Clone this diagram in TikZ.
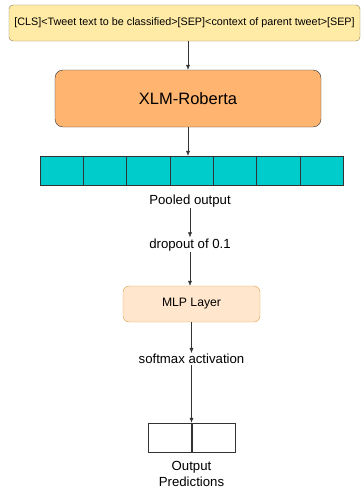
\documentclass[tikz,border=0pt]{standalone}
\usepackage{fontspec}
\setmainfont{Liberation Sans}
\usetikzlibrary{positioning,arrows.meta}
\definecolor{inputfill}{HTML}{FFEBA6}
\definecolor{inputline}{HTML}{8A7A50}
\definecolor{encfill}{HTML}{FFB570}
\definecolor{cellfill}{HTML}{00CCCC}
\definecolor{mlpfill}{HTML}{FFE6CC}
\definecolor{mlpline}{HTML}{DDA040}
\definecolor{linegray}{HTML}{333333}

\begin{document}
\begin{tikzpicture}[x=1pt, y=1pt,
inputnode/.style={rectangle, rounded corners=4pt, draw=inputline, fill=inputfill, minimum width=351pt, minimum height=36pt, font=\fontsize{10.8}{13}\selectfont},
encnode/.style={rectangle, rounded corners=8pt, draw=linegray, fill=encfill, minimum width=266pt, minimum height=57pt, font=\fontsize{16.5}{19}\selectfont},
cellnode/.style={rectangle, draw=linegray, fill=cellfill, minimum width=43.3pt, minimum height=29pt, inner sep=0pt},
mlpnode/.style={rectangle, rounded corners=6pt, draw=mlpline, fill=mlpfill, minimum width=137pt, minimum height=36pt, font=\fontsize{12.2}{14}\selectfont},
outnode/.style={rectangle, draw=linegray, fill=white, minimum width=43.5pt, minimum height=29pt, inner sep=0pt},
labelnode/.style={inner sep=1pt, font=\fontsize{13.2}{15.5}\selectfont, align=center},
arrow/.style={draw=linegray, -{Latex[length=5pt,width=4pt]}},
]
\useasboundingbox (0,0) rectangle (363,-490);

%Nodes
\node[inputnode]  (input)  at (184.5,-23) {[CLS]<Tweet text to be classified>[SEP]<context of parent tweet>[SEP]};
\node[encnode]    (xlm)    at (188,-98.5) {XLM-Roberta};

\foreach \i in {1,...,7}
  \node[cellnode] (c\i) at (40+\i*43.3-21.65,-170.5) {};

\node[labelnode]  (pooled)  at (190,-201) {Pooled output};
\node[labelnode]  (dropout) [below=29pt of pooled] {dropout of 0.1};
\node[mlpnode]    (mlp)     at (191.5,-304) {MLP Layer};
\node[labelnode]  (softmax) at (191.5,-359) {softmax activation};

\node[outnode]    (o1)      at (169.75,-437.5) {};
\node[outnode]    (o2)      [right=0pt of o1] {};
\node[labelnode]  (predict) at (191.5,-474) {Output\\Predictions};

%Lines
\draw[arrow] (input.south -| xlm.north) -- (xlm.north);
\draw[arrow] (xlm.south) -- (xlm.south |- c4.north);
\draw[arrow] (pooled.south) -- (dropout.north);
\draw[arrow] (dropout.south) -- (dropout.south |- mlp.north);
\draw[arrow] (mlp.south) -- (mlp.south |- softmax.north);
\draw[arrow] (softmax.south) -- (softmax.south |- o1.north);

\end{tikzpicture}
\end{document}
